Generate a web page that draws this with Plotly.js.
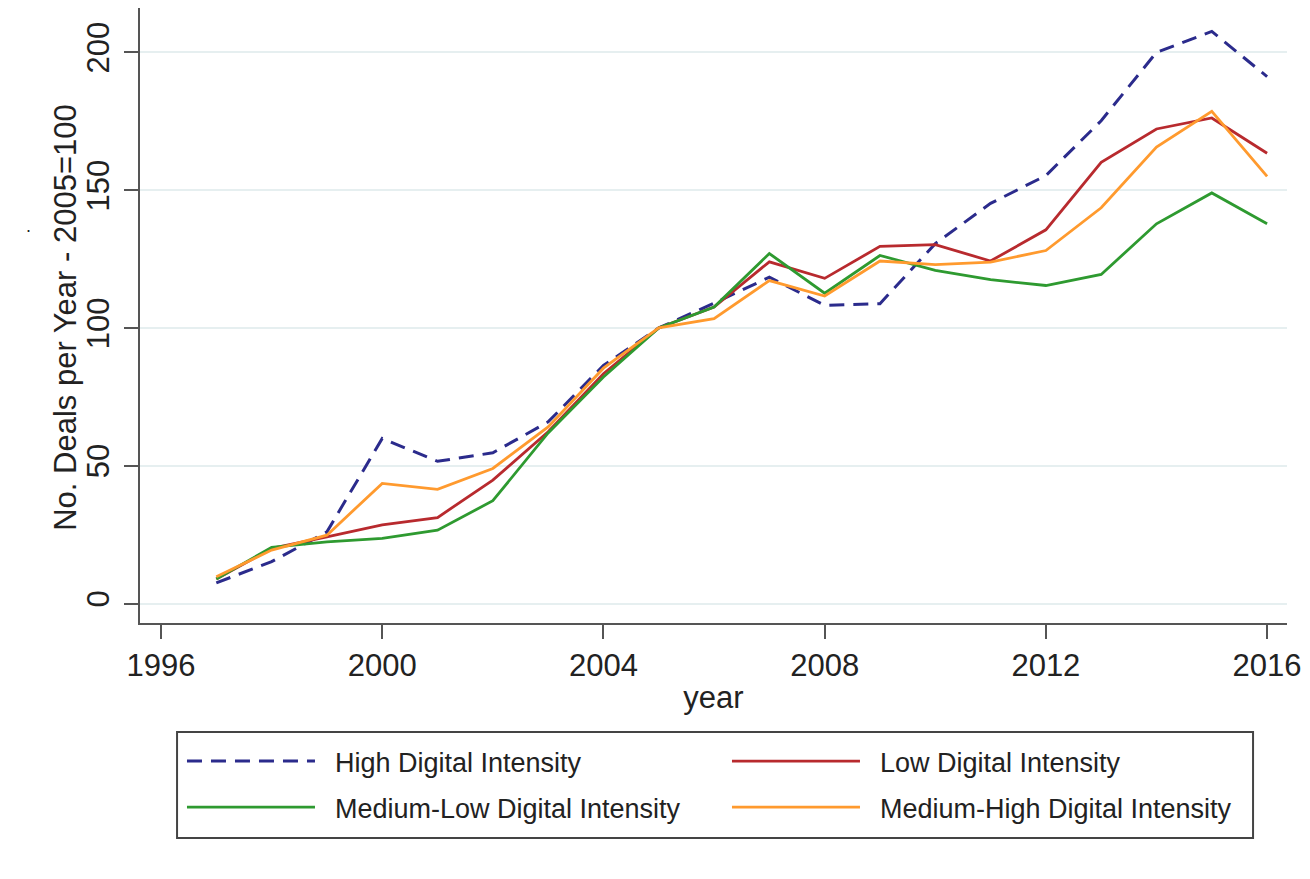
<!DOCTYPE html>
<html>
<head>
<meta charset="utf-8">
<script src="https://cdn.plot.ly/plotly-3.0.1.min.js"></script>
<style>html,body{margin:0;padding:0;background:#fff;}#chart{width:1310px;height:879px;}</style>
</head>
<body>
<div id="chart"></div>
<script>
var years = [1997,1998,1999,2000,2001,2002,2003,2004,2005,2006,2007,2008,2009,2010,2011,2012,2013,2014,2015,2016];
var highDigital = [7.5,15.2,26,59.9,51.6,54.7,65.9,86.4,100,109,118.4,108.2,108.8,130.6,145.2,155.3,175.2,200,207.6,191.2];
var lowDigital = [8.9,20,24.2,28.5,31.2,44.8,62.3,83.4,100,107.6,124,118,129.6,130.2,124.3,135.6,160.1,172.2,176.2,163.4];
var mediumLowDigital = [8.9,20.4,22.4,23.6,26.6,37.3,61.9,82.2,100,107.6,127,112.6,126.3,120.9,117.5,115.4,119.4,137.8,149,137.8];
var mediumHighDigital = [9.7,19.4,24.8,43.6,41.4,49,64.1,85.4,100,103.4,117.2,111.6,124.3,123,123.9,128.1,143.6,165.6,178.6,155];
var seriesNames = ["High Digital Intensity","Low Digital Intensity","Medium-Low Digital Intensity","Medium-High Digital Intensity"];
var xTicks = [1996,2000,2004,2008,2012,2016];
var yTicks = [0,50,100,150,200];
var xTitle = "year";
var yTitle = "No. Deals per Year - 2005=100";

var font = "Liberation Sans, Arial, sans-serif";
var pad = "\u00a0\u00a0";
var traces = [
  {x: years, y: highDigital, name: pad + seriesNames[0], mode: "lines", legend: "legend", line: {color: "#2b2b8c", width: 3, dash: "15px,9px"}},
  {x: years, y: lowDigital, name: pad + seriesNames[1], mode: "lines", legend: "legend", line: {color: "#b82a2e", width: 2.8}},
  {x: years, y: mediumLowDigital, name: pad + seriesNames[2], mode: "lines", legend: "legend2", line: {color: "#2e9a30", width: 2.8}},
  {x: years, y: mediumHighDigital, name: pad + seriesNames[3], mode: "lines", legend: "legend2", line: {color: "#ff9a2e", width: 2.8}}
];
var legendCommon = {
  orientation: "h", xanchor: "left", yanchor: "top",
  borderwidth: 0, bgcolor: "rgba(0,0,0,0)",
  font: {size: 27, color: "#222222", family: font},
  entrywidth: 402, entrywidthmode: "pixels", itemwidth: 128
};
var layout = {
  width: 1310, height: 879,
  margin: {l: 140, r: 23, t: 8, b: 256},
  paper_bgcolor: "#ffffff", plot_bgcolor: "#ffffff",
  font: {family: font, color: "#222222", size: 31},
  showlegend: true,
  xaxis: {
    range: [1995.62, 2016.36], tickvals: xTicks, ticktext: xTicks.map(String),
    showgrid: false, zeroline: false, showline: true, linecolor: "#555555", linewidth: 2,
    ticks: "outside", ticklen: 14, tickwidth: 2, tickcolor: "#555555",
    tickfont: {size: 31, color: "#222222", family: font},
    title: {text: xTitle, font: {size: 31, color: "#222222", family: font}, standoff: 4}
  },
  yaxis: {
    range: [-7.07, 216.1], tickvals: yTicks, ticktext: yTicks.map(String), tickangle: -90,
    showgrid: true, gridcolor: "#e6eff0", gridwidth: 2, zeroline: false,
    showline: true, linecolor: "#555555", linewidth: 2,
    ticks: "outside", ticklen: 14, tickwidth: 2, tickcolor: "#555555",
    ticklabelstandoff: 3,
    tickfont: {size: 31, color: "#222222", family: font}
  },
  legend: Object.assign({}, legendCommon, {x: 0.0366, y: -0.1854}),
  legend2: Object.assign({}, legendCommon, {x: 0.0366, y: -0.2602}),
  shapes: [
    {type: "rect", xref: "paper", yref: "paper", x0: 0.0323, x1: 0.9704, y0: -0.3496, y1: -0.1772,
     line: {color: "#444444", width: 2}, fillcolor: "rgba(0,0,0,0)", layer: "below"}
  ],
  annotations: [
    {text: yTitle, xref: "paper", yref: "paper", x: -0.065, y: 0.497, xanchor: "center", yanchor: "middle",
     textangle: -90, showarrow: false, font: {size: 31, color: "#222222", family: font}},
    {text: ".", xref: "paper", yref: "paper", x: -0.101, y: 0.646, showarrow: false, font: {size: 18, color: "#222222", family: font}}
  ]
};
Plotly.newPlot("chart", traces, layout, {displayModeBar: false, staticPlot: true});
</script>
</body>
</html>
